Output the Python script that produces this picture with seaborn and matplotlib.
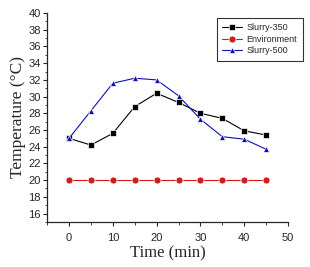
import matplotlib
matplotlib.use("Agg")
import matplotlib.pyplot as plt
import seaborn as sns
import pandas as pd
from matplotlib.ticker import MultipleLocator

time = [0, 5, 10, 15, 20, 25, 30, 35, 40, 45]
slurry350 = [25.0, 24.2, 25.6, 28.8, 30.4, 29.3, 28.0, 27.4, 25.9, 25.4]
environment = [20, 20, 20, 20, 20, 20, 20, 20, 20, 20]
slurry500 = [25.0, 28.3, 31.6, 32.2, 32.0, 30.1, 27.3, 25.2, 24.9, 23.7]
series_names = ["Slurry-350", "Environment", "Slurry-500"]

df = pd.concat([
    pd.DataFrame({"Time": time, "Temp": slurry350, "Series": series_names[0]}),
    pd.DataFrame({"Time": time, "Temp": environment, "Series": series_names[1]}),
    pd.DataFrame({"Time": time, "Temp": slurry500, "Series": series_names[2]}),
])

sns.set_style("ticks")
plt.rcParams["font.family"] = ["Liberation Sans", "DejaVu Sans"]

fig = plt.figure(figsize=(3.10, 2.67), dpi=100)
ax = fig.add_axes([0.152, 0.169, 0.777, 0.782])

palette = {"Slurry-350": "#000000", "Environment": "#d41a1a", "Slurry-500": "#1010b0"}
markers = {"Slurry-350": "s", "Environment": "o", "Slurry-500": "^"}
sns.lineplot(data=df, x="Time", y="Temp", hue="Series", style="Series",
             palette=palette, markers=markers, dashes=False, markersize=5,
             linewidth=0.8, markeredgewidth=0.5, ax=ax)

ax.set_xlim(-5, 50)
ax.set_ylim(15, 40)
ax.xaxis.set_major_locator(MultipleLocator(10))
ax.xaxis.set_minor_locator(MultipleLocator(5))
ax.yaxis.set_major_locator(MultipleLocator(2))
ax.yaxis.set_minor_locator(MultipleLocator(1))
ax.tick_params(axis="both", which="major", direction="out", length=3, width=0.8,
               labelsize=8)
ax.tick_params(axis="x", which="major", pad=5)
ax.tick_params(axis="y", which="major", pad=1.5)
ax.tick_params(axis="both", which="minor", direction="out", length=1.8, width=0.6)
for s in ["top", "right"]:
    ax.spines[s].set_visible(False)
for s in ["left", "bottom"]:
    ax.spines[s].set_linewidth(0.9)
ax.set_yticks(range(16, 41, 2))

ax.set_xlabel("Time (min)", fontsize=12, family=["Liberation Serif", "DejaVu Serif"], labelpad=2)
ax.set_ylabel("Temperature (\u00b0C)", fontsize=12.5, family=["Liberation Serif", "DejaVu Serif"], labelpad=2)

leg = ax.legend(loc="upper right", bbox_to_anchor=(1.08, 1.0), fontsize=6.5,
                frameon=True, fancybox=False, edgecolor="black", handlelength=2.2,
                handletextpad=0.5, borderpad=0.6, labelspacing=0.3)
leg.get_frame().set_linewidth(0.8)
leg.set_title(None)

fig.savefig("out.png", dpi=100)
